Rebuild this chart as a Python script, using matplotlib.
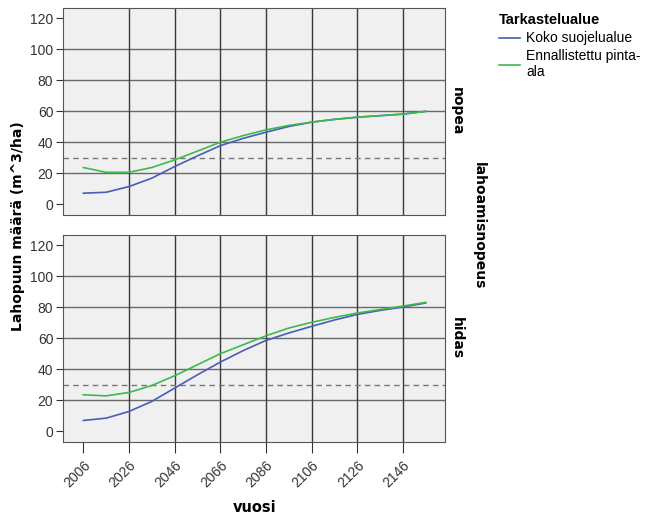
import matplotlib.pyplot as plt
import numpy as np

# years (every 10 years)
years = [2006, 2016, 2026, 2036, 2046, 2056, 2066, 2076, 2086, 2096, 2106, 2116, 2126, 2136, 2146, 2156]

# nopea (fast decay)
nopea_koko = [7.1, 7.7, 11.4, 16.8, 24.3, 31.2, 37.8, 42.5, 46.5, 50.2, 53.0, 54.8, 56.2, 57.2, 58.2, 60.0]
nopea_enn = [23.7, 20.6, 20.6, 23.7, 28.6, 34.3, 40.0, 44.3, 48.0, 50.9, 53.0, 54.8, 56.2, 57.2, 58.2, 60.0]

# hidas (slow decay)
hidas_koko = [6.9, 8.4, 12.7, 19.2, 27.8, 36.4, 44.6, 52.0, 58.6, 63.4, 67.7, 71.8, 75.4, 78.0, 80.2, 82.8]
hidas_enn = [23.5, 22.8, 25.0, 29.5, 35.8, 42.9, 50.0, 55.8, 61.6, 66.6, 70.3, 73.5, 76.3, 78.6, 80.8, 83.2]

xticks = [2006, 2026, 2046, 2066, 2086, 2106, 2126, 2146]
yticks = [0, 20, 40, 60, 80, 100, 120]
threshold = 30

blue = '#4a5cb8'
green = '#3cba4c'

plt.rcParams['font.family'] = ['Liberation Sans', 'DejaVu Sans']

fig = plt.figure(figsize=(6.45, 5.19), dpi=100)
ax_top = fig.add_axes([0.0977, 0.5857, 0.592, 0.399])
ax_bot = fig.add_axes([0.0977, 0.1484, 0.592, 0.399])

panels = [(ax_top, nopea_koko, nopea_enn, 'nopea'), (ax_bot, hidas_koko, hidas_enn, 'hidas')]
for ax, koko, enn, name in panels:
    ax.set_facecolor('#f0f0f0')
    ax.set_xlim(1997.1, 2164.4)
    ax.set_ylim(-7, 126.8)
    for y in yticks[1:-1]:
        ax.axhline(y, color='#6a6a6a', lw=1, zorder=1)
    for x in xticks[1:]:
        ax.axvline(x, color='#3a3a3a', lw=1, zorder=1)
    ax.axhline(threshold, color='#777777', lw=1, ls=(0, (4, 3)), zorder=2)
    l1, = ax.plot(years, koko, color=blue, lw=1.2, zorder=3, label='Koko suojelualue')
    l2, = ax.plot(years, enn, color=green, lw=1.2, zorder=3, label='Ennallistettu pinta-\nala')
    ax.set_yticks(yticks)
    ax.set_xticks(xticks)
    ax.tick_params(axis='y', direction='out', length=5, color='#333333', labelsize=10, labelcolor='#333333', pad=2)
    for s in ax.spines.values():
        s.set_color('#555555')
    ax.text(1.032, 0.5, name, transform=ax.transAxes, rotation=-90, fontsize=10,
            fontweight='bold', ha='center', va='center', family='DejaVu Sans')

ax_top.tick_params(axis='x', bottom=False, labelbottom=False)
ax_bot.tick_params(axis='x', direction='out', length=8, color='#333333', labelsize=10, labelcolor='#333333')
for lab in ax_bot.get_xticklabels():
    lab.set_rotation(45)
    lab.set_ha('right')
    lab.set_rotation_mode('anchor')

fig.text(0.028, 0.565, 'Lahopuun määrä (m^3/ha)', rotation=90, fontsize=10, fontweight='bold',
         ha='center', va='center', family='DejaVu Sans')
fig.text(0.394, 0.023, 'vuosi', fontsize=10.5, fontweight='bold', ha='center', va='center',
         family='DejaVu Sans')
fig.text(0.743, 0.566, 'lahoamisnopeus', rotation=-90, fontsize=10, fontweight='bold',
         ha='center', va='center', family='DejaVu Sans')

leg = fig.legend(handles=[l1, l2], title='Tarkastelualue', loc='upper left',
                 bbox_to_anchor=(0.774, 0.974), frameon=False, fontsize=10,
                 handlelength=1.5, handletextpad=0.45, borderaxespad=0, borderpad=0,
                 labelspacing=0.28)
leg.get_title().set_fontweight('bold')
leg.get_title().set_fontsize(10.5)
leg._legend_box.align = 'left'

fig.savefig('out.png', dpi=100)
